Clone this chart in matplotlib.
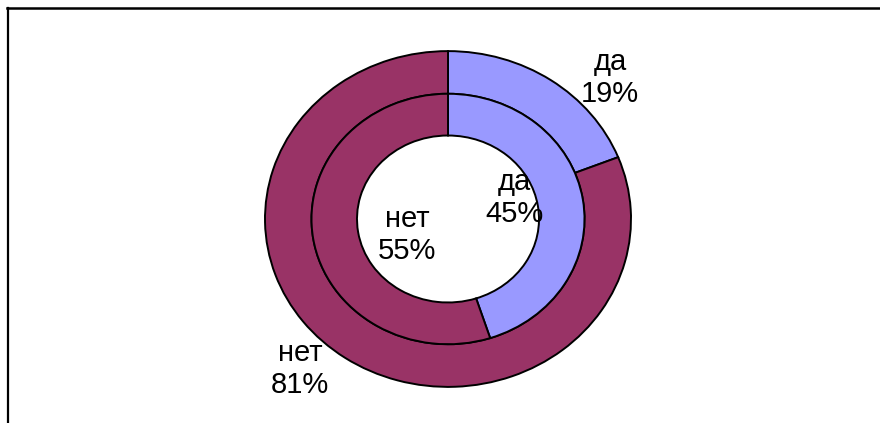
import matplotlib
matplotlib.use('Agg')
import matplotlib.pyplot as plt
from matplotlib.lines import Line2D

plt.rcParams['font.family'] = ['Liberation Sans', 'DejaVu Sans']

# данные
categories = ['да', 'нет']
outer_values = [19, 81]
inner_values = [45, 55]
colors = ['#9999FF', '#993366']

# смещения подписей от центра (пиксели)
outer_label_pos = [(162, 141), (-148, -150)]
inner_label_pos = [(66, 21), (-41, -16)]

W, H = 880, 423
k = 1.09  # кольца слегка растянуты по горизонтали
cx, cy = 448, (H - 219) * k

fig = plt.figure(figsize=(W / 100, H / 100), dpi=100)
ax = fig.add_axes([0, 0, 1, 1])

wp = dict(edgecolor='black', linewidth=1.4)
ax.pie(outer_values, colors=colors, radius=183, center=(cx, cy),
       startangle=90, counterclock=False,
       wedgeprops=dict(width=46.5, **wp), frame=True)
ax.pie(inner_values, colors=colors, radius=136.5, center=(cx, cy),
       startangle=90, counterclock=False,
       wedgeprops=dict(width=45.5, **wp), frame=True)
ax.set_aspect('auto')
ax.set_xlim(0, W)
ax.set_ylim(0, H * k)
ax.axis('off')

for cat, v, (dx, dy) in zip(categories, outer_values, outer_label_pos):
    ax.text(cx + dx, cy + dy * k, f'{cat}\n{v}%', ha='center', va='center',
            fontsize=21, linespacing=1.2)
for cat, v, (dx, dy) in zip(categories, inner_values, inner_label_pos):
    ax.text(cx + dx, cy + dy * k, f'{cat}\n{v}%', ha='center', va='center',
            fontsize=21, linespacing=1.2)

# рамка (обрезана справа и снизу)
fig.add_artist(Line2D([7.5 / W, 7.5 / W], [0, 1 - 8 / H], color='black',
                      linewidth=1.6, transform=fig.transFigure))
fig.add_artist(Line2D([7 / W, 1], [1 - 8.5 / H, 1 - 8.5 / H], color='black',
                      linewidth=1.8, transform=fig.transFigure))

fig.savefig('out.png', dpi=100)
